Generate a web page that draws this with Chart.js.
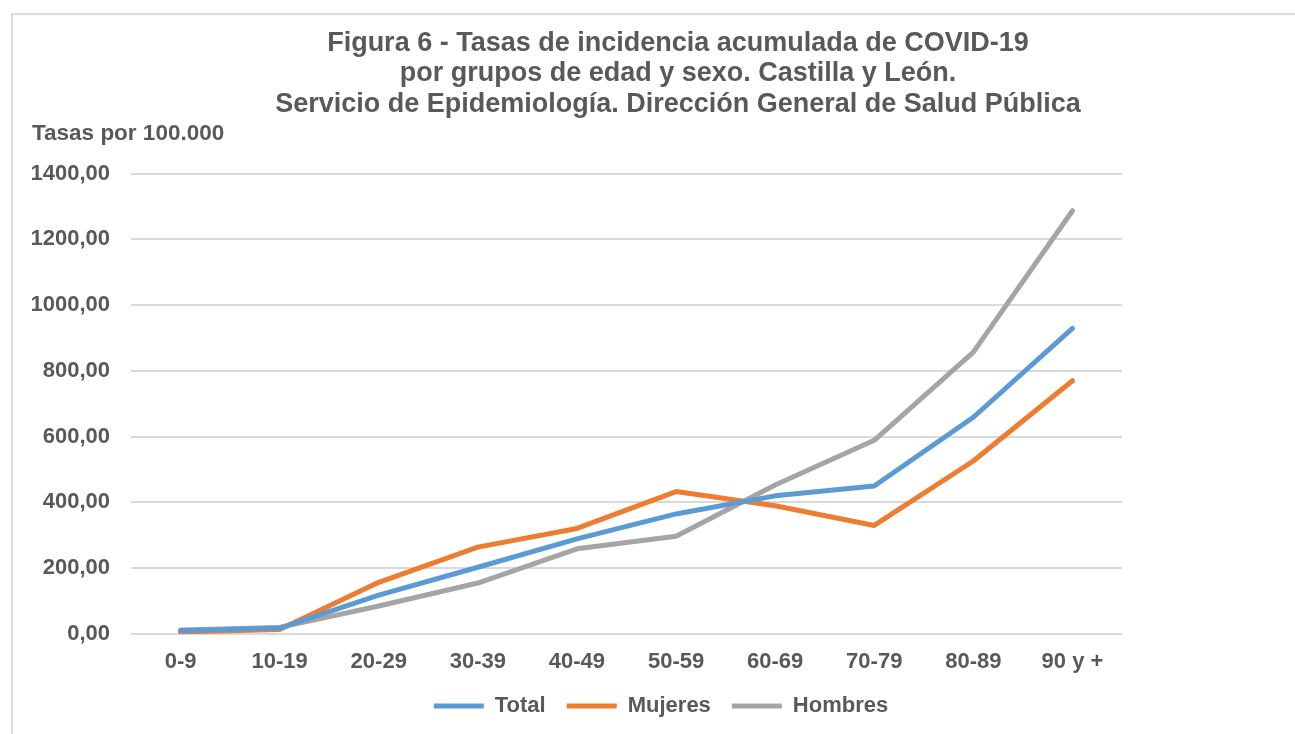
<!DOCTYPE html>
<html>
<head>
<meta charset="utf-8">
<script src="https://cdn.jsdelivr.net/npm/chart.js@4/dist/chart.umd.min.js"></script>
<style>
  html, body { margin: 0; padding: 0; background: #fff; overflow: hidden; }
  #frame { position: absolute; left: 11px; top: 13px; width: 1400px; height: 800px; border: 2px solid #dcdcdc; }
  #wrap { position: absolute; left: 0; top: 0; width: 1295px; height: 734px; }
</style>
</head>
<body>
<div id="frame"></div>
<div id="wrap"><canvas id="chart"></canvas></div>
<script>
// age groups
const ageGroups = ['0-9', '10-19', '20-29', '30-39', '40-49', '50-59', '60-69', '70-79', '80-89', '90 y +'];

// rates per 100.000
const total = [10, 18, 118, 203, 289, 365, 420, 450, 659, 929];
const mujeres = [6, 14, 157, 264, 321, 433, 390, 330, 526, 770];
const hombres = [12, 20, 85, 155, 259, 297, 453, 589, 857, 1287];

const titleLines = [
  'Figura 6 - Tasas de incidencia acumulada de COVID-19',
  'por grupos de edad y sexo. Castilla y León.',
  'Servicio de Epidemiología. Dirección General de Salud Pública'
];
const yLabel = 'Tasas por 100.000';

const textColor = '#595959';
const fontFamily = '"Liberation Sans", Arial, sans-serif';

// move title and legend sideways, like the Excel original
const shiftBlocks = {
  id: 'shiftBlocks',
  afterLayout(chart) {
    const t = chart.titleBlock;
    t.left += 101; t.right += 101;
    const l = chart.legend;
    l.left += 84; l.right += 84;
  }
};

const makeLine = (label, data, color) => ({
  label: label,
  data: data,
  borderColor: color,
  backgroundColor: color,
  borderWidth: 5,
  borderCapStyle: 'round',
  borderJoinStyle: 'round',
  pointRadius: 0,
  pointHoverRadius: 0,
  tension: 0,
  fill: false
});

new Chart(document.getElementById('chart'), {
  type: 'line',
  data: {
    labels: ageGroups,
    datasets: [
      makeLine('Total', total, '#5b9bd5'),
      makeLine('Mujeres', mujeres, '#ed7d31'),
      makeLine('Hombres', hombres, '#a5a5a5')
    ]
  },
  plugins: [shiftBlocks],
  options: {
    responsive: true,
    maintainAspectRatio: false,
    animation: false,
    layout: { padding: { left: 32, right: 173, top: 0, bottom: 7 } },
    plugins: {
      title: {
        display: true,
        text: titleLines,
        color: textColor,
        font: { family: fontFamily, size: 27, weight: 'bold', lineHeight: 1.13 },
        padding: { top: 28, bottom: 0 }
      },
      subtitle: {
        display: true,
        text: yLabel,
        align: 'start',
        color: textColor,
        font: { family: fontFamily, size: 22.5, weight: 'bold', lineHeight: 1.2 },
        padding: { top: 1, bottom: 26 }
      },
      legend: {
        position: 'bottom',
        labels: {
          usePointStyle: true,
          pointStyle: 'line',
          pointStyleWidth: 50,
          padding: 21,
          color: textColor,
          font: { family: fontFamily, size: 22, weight: 'bold' }
        }
      },
      tooltip: { enabled: false }
    },
    scales: {
      x: {
        offset: true,
        grid: { display: false, drawTicks: false },
        border: { display: false },
        afterFit(scale) { scale.height = 40; },
        ticks: {
          color: textColor,
          padding: 15,
          maxRotation: 0,
          font: { family: fontFamily, size: 22, weight: 'bold' }
        }
      },
      y: {
        min: 0,
        max: 1400,
        grid: { color: '#d9d9d9', lineWidth: 2, drawTicks: false },
        border: { display: false },
        afterFit(scale) { scale.width = 99; },
        ticks: {
          stepSize: 200,
          color: textColor,
          padding: 21,
          font: { family: fontFamily, size: 22, weight: 'bold' },
          callback: v => v.toFixed(2).replace('.', ',')
        }
      }
    }
  }
});
</script>
</body>
</html>
